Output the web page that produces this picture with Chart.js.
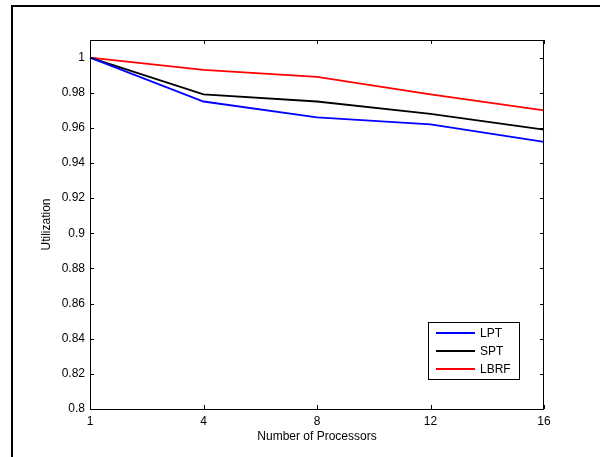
<!DOCTYPE html>
<html>
<head>
<meta charset="utf-8">
<script src="https://cdn.jsdelivr.net/npm/chart.js@4.4.1/dist/chart.umd.min.js"></script>
<style>
  html, body { margin: 0; padding: 0; background: #fff; }
  #wrap { width: 600px; height: 457px; position: relative; }
</style>
</head>
<body>
<div id="wrap"><canvas id="c" width="600" height="457"></canvas></div>
<script>
const categories = ['1', '4', '8', '12', '16'];
const lptValues  = [1.000, 0.975, 0.966, 0.962, 0.952];
const sptValues  = [1.000, 0.979, 0.975, 0.968, 0.959];
const lbrfValues = [1.000, 0.993, 0.989, 0.979, 0.970];
const yTickValues = [0.8, 0.82, 0.84, 0.86, 0.88, 0.9, 0.92, 0.94, 0.96, 0.98, 1];
const seriesNames = ['LPT', 'SPT', 'LBRF'];
const seriesColors = ['#0000ff', '#000000', '#ff0000'];

const FONT = '"Liberation Sans", Arial, sans-serif';
const FS = 12;

const framePlugin = {
  id: 'frame',
  beforeDraw(chart) {
    const ctx = chart.ctx;
    ctx.save();
    ctx.fillStyle = '#fff';
    ctx.fillRect(0, 0, chart.width, chart.height);
    ctx.fillStyle = '#000';
    ctx.fillRect(11, 5, chart.width - 11, 2);
    ctx.fillRect(11, 5, 2, chart.height - 5);
    ctx.restore();
  }
};

const boxPlugin = {
  id: 'box',
  afterDraw(chart) {
    const ctx = chart.ctx;
    const a = chart.chartArea;
    const xs = chart.scales.x, ys = chart.scales.y;
    ctx.save();
    ctx.strokeStyle = '#000';
    ctx.lineWidth = 1;
    ctx.strokeRect(Math.round(a.left) + 0.5, Math.round(a.top) + 0.5,
                   Math.round(a.right - a.left) - 1, Math.round(a.bottom - a.top));
    const tl = 4;
    ctx.beginPath();
    xs.ticks.forEach((t, i) => {
      const px = Math.round(xs.getPixelForTick(i)) + 0.5;
      ctx.moveTo(px, a.bottom); ctx.lineTo(px, a.bottom - tl);
      ctx.moveTo(px, a.top); ctx.lineTo(px, a.top + tl);
    });
    ys.ticks.forEach((t, i) => {
      const py = Math.round(ys.getPixelForTick(i)) + 0.5;
      ctx.moveTo(a.left, py); ctx.lineTo(a.left + tl, py);
      ctx.moveTo(a.right, py); ctx.lineTo(a.right - tl, py);
    });
    ctx.stroke();

    // legend
    const bx = a.right - 116, by = a.bottom - 87, bw = 91, bh = 57;
    ctx.fillStyle = '#fff';
    ctx.fillRect(bx, by, bw, bh);
    ctx.strokeRect(bx + 0.5, by + 0.5, bw, bh);
    ctx.font = FS + 'px ' + FONT;
    ctx.textBaseline = 'middle';
    ctx.textAlign = 'left';
    chart.data.datasets.forEach((ds, i) => {
      const yy = by + 11 + i * 18;
      ctx.strokeStyle = ds.borderColor;
      ctx.lineWidth = 1.8;
      ctx.beginPath();
      ctx.moveTo(bx + 8, yy); ctx.lineTo(bx + 47, yy);
      ctx.stroke();
      ctx.fillStyle = '#000';
      ctx.fillText(ds.label, bx + 52, yy + 1);
    });
    ctx.restore();
  }
};

const datasets = [lptValues, sptValues, lbrfValues].map((vals, i) => ({
  label: seriesNames[i],
  data: vals,
  borderColor: seriesColors[i],
  backgroundColor: seriesColors[i],
  borderWidth: 1.8,
  pointRadius: 0,
  tension: 0,
  fill: false
}));

new Chart(document.getElementById('c'), {
  type: 'line',
  data: { labels: categories, datasets },
  options: {
    responsive: false,
    animation: false,
    devicePixelRatio: 1,
    layout: { padding: { top: 40, right: 56, left: 0, bottom: 0 } },
    plugins: { legend: { display: false }, tooltip: { enabled: false } },
    scales: {
      x: {
        type: 'category',
        offset: false,
        grid: { display: false, drawTicks: false },
        border: { display: false },
        ticks: { color: '#000', padding: 5, font: { family: FONT, size: FS }, maxRotation: 0 },
        title: { display: true, text: 'Number of Processors', color: '#000',
                 font: { family: FONT, size: FS }, padding: { top: 0, bottom: 13 } },
        afterFit(s) { s.height = 48; }
      },
      y: {
        min: 0.8, max: 1.01,
        grid: { display: false, drawTicks: false },
        border: { display: false },
        afterBuildTicks(s) { s.ticks = yTickValues.map(v => ({ value: v })); },
        ticks: {
          color: '#000', padding: 5, font: { family: FONT, size: FS },
          callback: v => String(Math.round(v * 100) / 100)
        },
        title: { display: true, text: 'Utilization', color: '#000',
                 font: { family: FONT, size: FS }, padding: { top: 39, bottom: 0 } },
        afterFit(s) { s.width = 90; }
      }
    }
  },
  plugins: [framePlugin, boxPlugin]
});
</script>
</body>
</html>
